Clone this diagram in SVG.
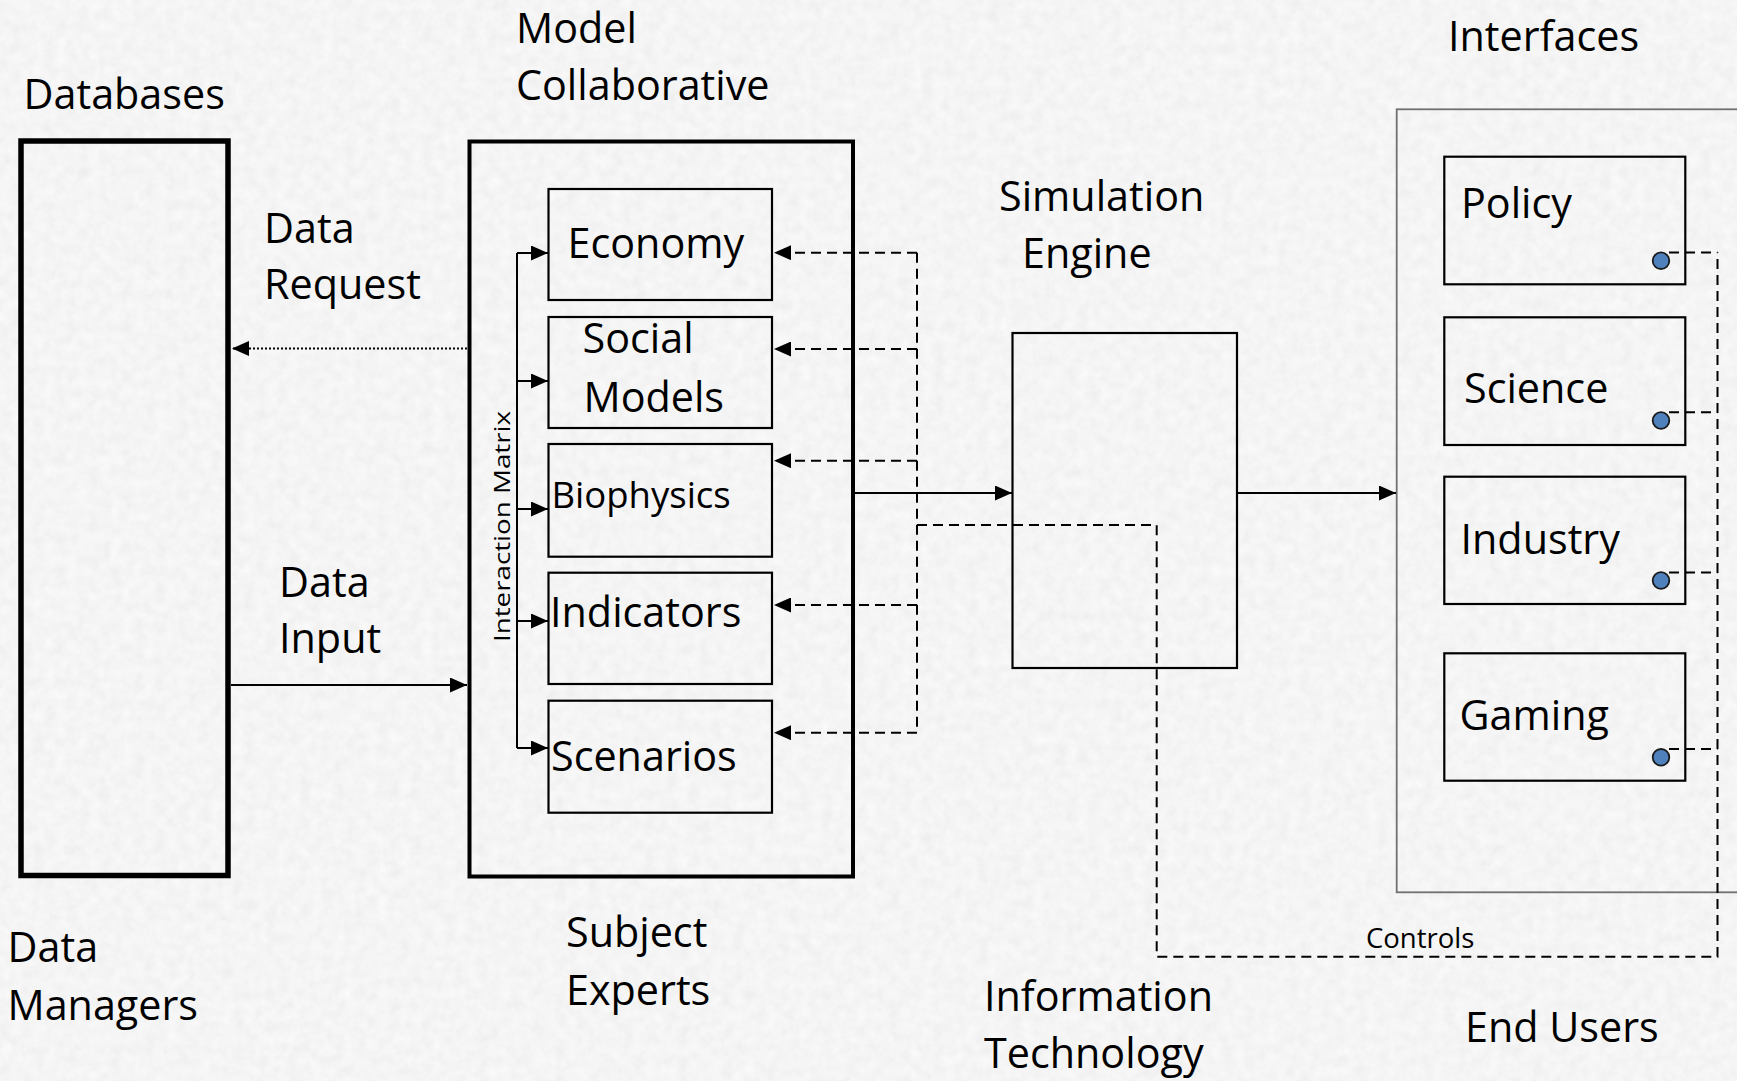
<svg xmlns="http://www.w3.org/2000/svg" width="1737" height="1081" viewBox="0 0 1737 1081">
<style>
text{font-family:"Open Sans","Noto Sans","Liberation Sans",sans-serif;fill:#000}
.lbl{font-size:41.3px}
.sm{font-size:36.5px}
.ctl{font-size:27.5px}
.box{fill:none;stroke:#000;stroke-width:2.2}
.solid{fill:none;stroke:#000;stroke-width:2}
.dash{fill:none;stroke:#000;stroke-width:2;stroke-dasharray:10 6}
.dot{fill:none;stroke:#000;stroke-width:2;stroke-dasharray:2 2}
.knob{fill:#4f81bd;stroke:#1a1a1a;stroke-width:1.8}
</style>
<defs>
<marker id="ah" markerUnits="userSpaceOnUse" markerWidth="17" markerHeight="15" refX="17" refY="7.5" orient="auto">
<path d="M0,0 L17,7.5 L0,15 Z" fill="#000" stroke="none"/>
</marker>
<filter id="paper" x="0" y="0" width="100%" height="100%">
<feTurbulence type="fractalNoise" baseFrequency="0.09" numOctaves="4" seed="7"/>
<feColorMatrix type="saturate" values="0"/>
<feComponentTransfer>
<feFuncR type="linear" slope="0.16" intercept="0.83"/>
<feFuncG type="linear" slope="0.16" intercept="0.83"/>
<feFuncB type="linear" slope="0.16" intercept="0.83"/>
<feFuncA type="linear" slope="0" intercept="1"/>
</feComponentTransfer>
</filter>
</defs>
<rect id="background" x="0" y="0" width="1737" height="1081" fill="#e6e6e6"/>
<rect x="0" y="0" width="1737" height="1081" filter="url(#paper)"/>

<g id="databases">
<rect x="21" y="141" width="207" height="734.5" fill="none" stroke="#000" stroke-width="5.5"/>
<text class="lbl" x="23.5" y="108.5">Databases</text>
</g>
<g id="data-managers">
<text class="lbl" x="7.5" y="962">Data</text>
<text class="lbl" x="7.5" y="1020">Managers</text>
</g>

<g id="model-collaborative">
<rect x="469.5" y="141.5" width="383.5" height="735" fill="none" stroke="#000" stroke-width="4"/>
<text class="lbl" x="516" y="43">Model</text>
<text class="lbl" x="516" y="99.5">Collaborative</text>
<text font-size="21.5" textLength="231" lengthAdjust="spacingAndGlyphs" transform="translate(509.5,642) rotate(-90)">Interaction Matrix</text>
</g>
<g id="subject-experts">
<text class="lbl" x="566" y="947">Subject</text>
<text class="lbl" x="566" y="1005">Experts</text>
</g>

<g id="economy">
<rect class="box" x="548.5" y="189" width="223.5" height="111"/>
<text class="lbl" x="567.5" y="258">Economy</text>
</g>
<g id="social-models">
<rect class="box" x="548.5" y="317" width="223.5" height="111"/>
<text class="lbl" x="582.5" y="353">Social</text>
<text class="lbl" x="583.5" y="412">Models</text>
</g>
<g id="biophysics">
<rect class="box" x="548.5" y="444" width="223.5" height="112.7"/>
<text class="sm" x="551.5" y="508">Biophysics</text>
</g>
<g id="indicators">
<rect class="box" x="548.5" y="572.7" width="223.5" height="111.3"/>
<text class="lbl" x="550" y="626.7">Indicators</text>
</g>
<g id="scenarios">
<rect class="box" x="548.5" y="700.7" width="223.5" height="112"/>
<text class="lbl" x="551" y="771">Scenarios</text>
</g>

<g id="simulation-engine">
<rect class="box" x="1012.5" y="333" width="224.5" height="335"/>
<text class="lbl" x="999" y="210.7">Simulation</text>
<text class="lbl" x="1022" y="268">Engine</text>
</g>
<g id="information-technology">
<text class="lbl" x="984" y="1010.7">Information</text>
<text class="lbl" x="984" y="1068.3">Technology</text>
</g>

<g id="interfaces">
<rect x="1396.7" y="109.3" width="400" height="783" fill="none" stroke="#707070" stroke-width="1.8"/>
<text class="lbl" x="1448" y="50.7">Interfaces</text>
</g>
<g id="policy">
<rect class="box" x="1444.3" y="156.7" width="241" height="127.6"/>
<text class="lbl" x="1461" y="218.3">Policy</text>
<circle class="knob" cx="1661" cy="260.7" r="8.3"/>
</g>
<g id="science">
<rect class="box" x="1444.3" y="317.3" width="241" height="127.7"/>
<text class="lbl" x="1464" y="402.7">Science</text>
<circle class="knob" cx="1661" cy="420.5" r="8.3"/>
</g>
<g id="industry">
<rect class="box" x="1444.3" y="476.7" width="241" height="127.3"/>
<text class="lbl" x="1460.5" y="554.3">Industry</text>
<circle class="knob" cx="1661" cy="580.5" r="8.3"/>
</g>
<g id="gaming">
<rect class="box" x="1444.3" y="653.3" width="241" height="127.4"/>
<text class="lbl" x="1459.5" y="730">Gaming</text>
<circle class="knob" cx="1661" cy="757.3" r="8.3"/>
</g>
<g id="end-users">
<text class="lbl" x="1465" y="1042.3">End Users</text>
</g>

<g id="connectors">
<path class="dot" d="M467,348.5 H232" marker-end="url(#ah)"/>
<text class="lbl" x="264" y="243">Data</text>
<text class="lbl" x="264" y="299.3">Request</text>
<path class="solid" d="M231,685 H467" marker-end="url(#ah)"/>
<text class="lbl" x="279" y="596.5">Data</text>
<text class="lbl" x="279" y="653">Input</text>

<path class="solid" d="M517,253 V748"/>
<path class="solid" d="M517,253 H548" marker-end="url(#ah)"/>
<path class="solid" d="M517,381 H548" marker-end="url(#ah)"/>
<path class="solid" d="M517,509 H548" marker-end="url(#ah)"/>
<path class="solid" d="M517,621 H548" marker-end="url(#ah)"/>
<path class="solid" d="M517,748 H548" marker-end="url(#ah)"/>

<path class="solid" d="M855,493 H1012" marker-end="url(#ah)"/>
<path class="solid" d="M1238,493 H1396" marker-end="url(#ah)"/>

<path class="dash" d="M917,252.7 V732.7"/>
<path class="dash" d="M917,252.7 H774" marker-end="url(#ah)"/>
<path class="dash" d="M917,349 H774" marker-end="url(#ah)"/>
<path class="dash" d="M917,460.7 H774" marker-end="url(#ah)"/>
<path class="dash" d="M917,605 H774" marker-end="url(#ah)"/>
<path class="dash" d="M917,732.7 H774" marker-end="url(#ah)"/>

<path class="dash" d="M917,525 H1156.7 V956.7 H1717.5 V252.5"/>
<path class="dash" d="M1669,252.5 H1717.5"/>
<path class="dash" d="M1669,412.3 H1717.5"/>
<path class="dash" d="M1669,572.5 H1717.5"/>
<path class="dash" d="M1669,749 H1717.5"/>
<text class="ctl" x="1366" y="948.3">Controls</text>
</g>
</svg>
